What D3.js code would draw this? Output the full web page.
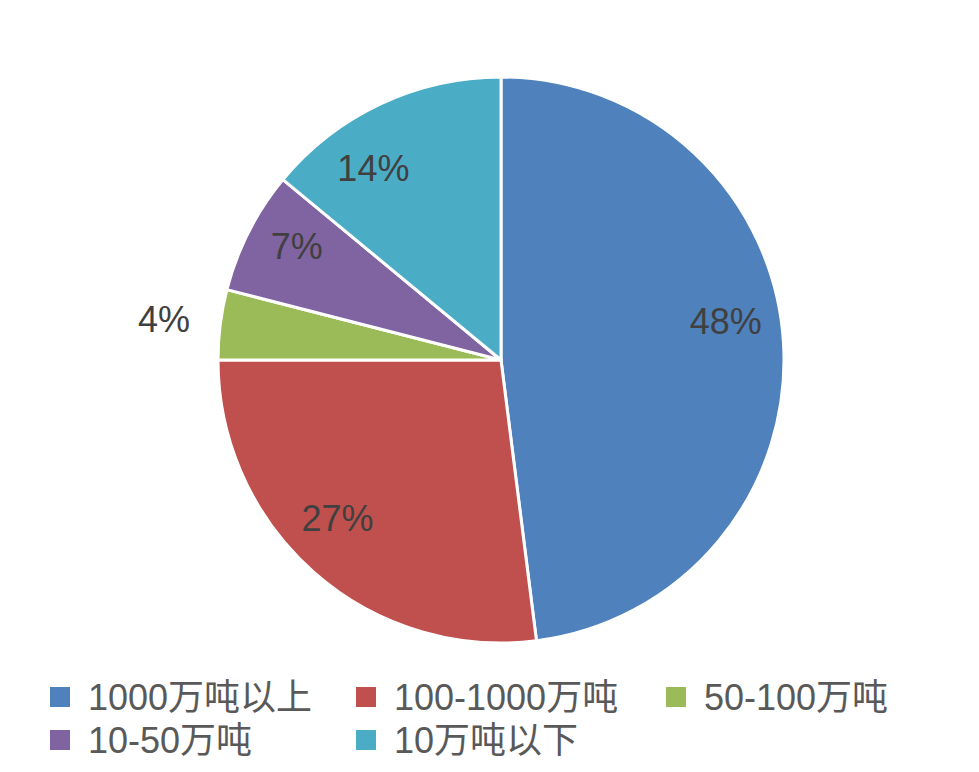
<!DOCTYPE html>
<html>
<head>
<meta charset="utf-8">
<script src="https://cdn.jsdelivr.net/npm/d3@7"></script>
<style>
body { margin: 0; background: #fff; }
</style>
</head>
<body>
<script>
var categories = ["1000万吨以上", "100-1000万吨", "50-100万吨", "10-50万吨", "10万吨以下"];
var shares = [48, 27, 4, 7, 14];
var colors = ["#4F81BD", "#C0504D", "#9BBB59", "#8064A2", "#4BACC6"];

var width = 979, height = 772;
var cx = 501, cy = 360, radius = 283;

var svg = d3.select("body").append("svg")
	.attr("width", width).attr("height", height);

var data = categories.map(function(c, i){ return { name: c, value: shares[i], color: colors[i] }; });

var pie = d3.pie().sort(null).value(function(d){ return d.value; });
var arc = d3.arc().innerRadius(0).outerRadius(radius);
var labelArc = d3.arc().innerRadius(radius * 0.81).outerRadius(radius * 0.81);
var outerArc = d3.arc().innerRadius(radius * 1.2).outerRadius(radius * 1.2);

var g = svg.append("g").attr("transform", "translate(" + cx + "," + cy + ")");
var arcs = pie(data);

g.selectAll("path")
	.data(arcs)
	.enter()
	.append("path")
	.attr("d", arc)
	.style("fill", function(d){ return d.data.color; })
	.style("stroke", "#fff")
	.style("stroke-width", 3)
	.style("stroke-linejoin", "round");

// excel "best fit" moves a few labels off the centroid a bit
var nudge = [[-4, -25], [-12, -14], [0, 2], [0, -10], [-30, 15]];

// small slices get their label outside the pie
g.selectAll("text.pct")
	.data(arcs)
	.enter()
	.append("text")
	.attr("class", "pct")
	.attr("transform", function(d, i){
		var p = d.data.value < 5 ? outerArc.centroid(d) : labelArc.centroid(d);
		return "translate(" + (p[0] + nudge[i][0]) + "," + (p[1] + nudge[i][1]) + ")";
	})
	.attr("text-anchor", "middle")
	.attr("dy", "0.36em")
	.style("font-family", "'Liberation Sans', Arial, sans-serif")
	.style("font-size", "36px")
	.style("fill", "#404040")
	.text(function(d){ return d.data.value + "%"; });

// legend, 3 per row
var legendX = [50, 356, 666];
var legendY = [697, 740];
var legend = svg.selectAll("g.legend")
	.data(data)
	.enter()
	.append("g")
	.attr("class", "legend")
	.attr("transform", function(d, i){
		return "translate(" + legendX[i % 3] + "," + legendY[Math.floor(i / 3)] + ")";
	});
legend.append("rect")
	.attr("x", 0).attr("y", -10)
	.attr("width", 20).attr("height", 20)
	.style("fill", function(d){ return d.color; });
legend.append("text")
	.attr("x", 38)
	.attr("dy", "0.36em")
	.style("font-family", "'Liberation Sans', 'Noto Sans CJK SC', sans-serif")
	.style("font-size", "36px")
	.style("fill", "#595959")
	.text(function(d){ return d.name; });
</script>
</body>
</html>
